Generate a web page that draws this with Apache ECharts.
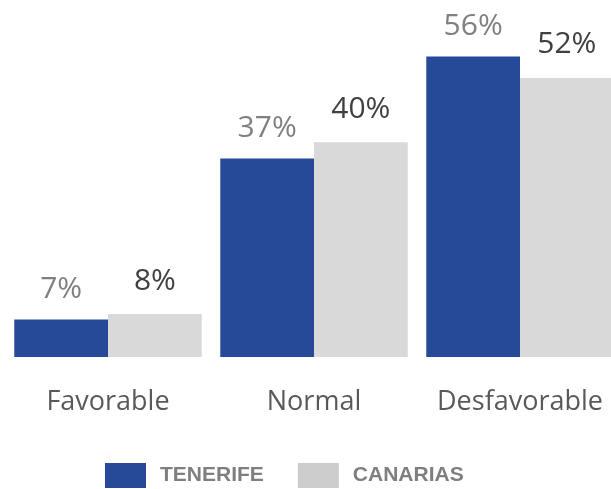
<!DOCTYPE html>
<html lang="es">
<head>
    <meta charset="UTF-8">
    <title>Tenerife vs Canarias</title>
    <script src="https://cdn.jsdelivr.net/npm/echarts@6/dist/echarts.min.js"></script>
    <style>
        html, body { margin: 0; padding: 0; background: #fff; }
    </style>
</head>
<body>
<div id="main" style="width: 611px;height:489px;"></div>
<script type="text/javascript">
    var categorias = ['Favorable', 'Normal', 'Desfavorable'];
    var tenerife = [7, 37, 56];
    var canarias = [8, 40, 52];

    var myChart = echarts.init(document.getElementById('main'));

    myChart.setOption({
        animation: false,
        grid: { left: 5, width: 618, top: 35, bottom: 132, outerBoundsMode: 'none', containLabel: false },
        legend: {
            bottom: 1,
            left: 105,
            padding: 0,
            itemWidth: 41,
            itemHeight: 25,
            itemGap: 34,
            icon: 'rect',
            textStyle: {
                fontFamily: 'Liberation Sans',
                fontWeight: 'bold',
                fontSize: 21,
                color: '#7f7f7f',
                padding: [0, 0, 0, 9]
            },
            data: ['TENERIFE', { name: 'CANARIAS', itemStyle: { color: '#cccccc' } }]
        },
        xAxis: {
            type: 'category',
            data: categorias,
            axisLine: { show: false },
            axisTick: { show: false },
            axisLabel: {
                interval: 0,
                hideOverlap: false,
                margin: 32,
                fontSize: 27,
                fontFamily: 'Open Sans',
                color: '#595959'
            }
        },
        yAxis: {
            type: 'value',
            min: 0,
            max: 60,
            show: false
        },
        series: [{
            name: 'TENERIFE',
            type: 'bar',
            data: tenerife,
            barGap: '0%',
            barCategoryGap: '9%',
            itemStyle: { color: '#264a97' },
            label: {
                show: true,
                position: 'top',
                distance: 15,
                formatter: '{c}%',
                fontSize: 30,
                fontFamily: 'Open Sans',
                color: '#808080'
            }
        }, {
            name: 'CANARIAS',
            type: 'bar',
            data: canarias,
            itemStyle: { color: '#d9d9d9' },
            label: {
                show: true,
                position: 'top',
                distance: 18,
                formatter: '{c}%',
                fontSize: 30,
                fontFamily: 'Open Sans',
                color: '#404040'
            }
        }]
    });
</script>
</body>
</html>
